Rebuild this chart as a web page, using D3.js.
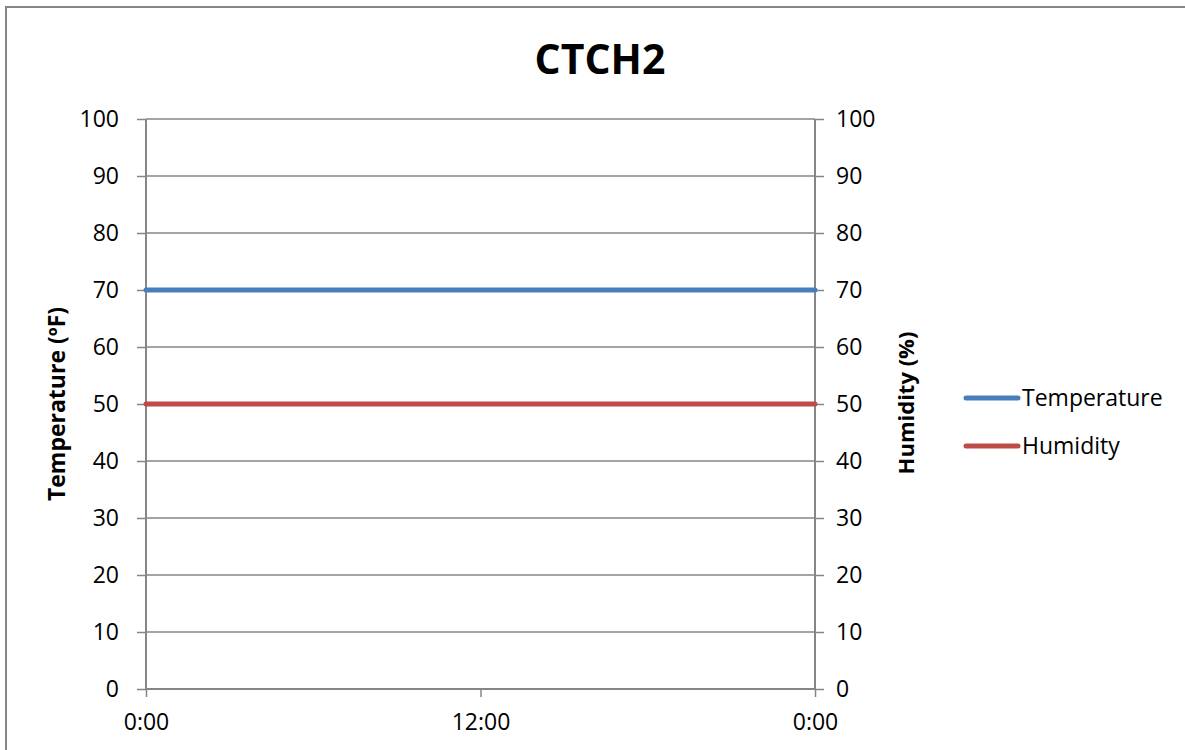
<!DOCTYPE html>
<html>
<head>
<meta charset="utf-8">
<script src="https://cdn.jsdelivr.net/npm/d3@7"></script>
<style>
  body { margin: 0; background: #fff; }
  svg text { font-family: "Open Sans", "DejaVu Sans", sans-serif; fill: #000; }
</style>
</head>
<body>
<svg id="chart" width="1185" height="750"></svg>
<script>
// chart data
var hours = [0, 10.5, 24];               // sample times (hours from midnight)
var temperature = [70, 70, 70];          // ºF, left axis
var humidity = [50, 50, 50];             // %, right axis
var yTicks = [0, 10, 20, 30, 40, 50, 60, 70, 80, 90, 100];
var xTicks = [0, 12, 24];
var xTickLabels = ["0:00", "12:00", "0:00"];
var seriesNames = ["Temperature", "Humidity"];
var seriesColors = ["#4a7ebb", "#be4b48"];

var svg = d3.select("#chart");

// outer chart frame (runs off the picture on right and bottom)
svg.append("rect")
    .attr("x", 6).attr("y", 7)
    .attr("width", 1200).attr("height", 800)
    .attr("fill", "none")
    .attr("stroke", "#868686")
    .attr("stroke-width", 2);

var x = d3.scaleLinear().domain([0, 24]).range([146, 815]);
var yL = d3.scaleLinear().domain([0, 100]).range([689, 119]);
var yR = d3.scaleLinear().domain([0, 100]).range([689, 119]);

// gridlines
svg.append("g")
    .selectAll("line")
    .data(yTicks.slice(1))
    .enter().append("line")
    .attr("x1", 146).attr("x2", 815)
    .attr("y1", function(d){ return yL(d); })
    .attr("y2", function(d){ return yL(d); })
    .attr("stroke", "#868686")
    .attr("stroke-width", 1.5);

// left axis
var leftAxis = d3.axisLeft(yL).tickValues(yTicks).tickSize(9).tickPadding(18);
var gL = svg.append("g").attr("transform", "translate(146,0)").call(leftAxis);

// right axis
var rightAxis = d3.axisRight(yR).tickValues(yTicks).tickSize(9).tickPadding(12);
var gR = svg.append("g").attr("transform", "translate(815,0)").call(rightAxis);

// bottom axis
var bottomAxis = d3.axisBottom(x).tickValues(xTicks).tickSize(8).tickPadding(17)
    .tickFormat(function(d, i){ return xTickLabels[i]; });
var gB = svg.append("g").attr("transform", "translate(0,689)").call(bottomAxis);

[gL, gR, gB].forEach(function(g){
    g.select(".domain").attr("stroke", "#868686").attr("stroke-width", 2);
    g.selectAll(".tick line").attr("stroke", "#868686").attr("stroke-width", 1.5);
    g.selectAll(".tick text").style("font-size", "23px").attr("fill", "#000");
    g.attr("font-family", null);
});
gL.select(".domain").attr("d", "M0,689V119");
gR.select(".domain").attr("d", "M0,689V119");
gB.select(".domain").attr("d", "M146,0H815");

// series lines
var lineL = d3.line().x(function(d){ return x(d[0]); }).y(function(d){ return yL(d[1]); });
var lineR = d3.line().x(function(d){ return x(d[0]); }).y(function(d){ return yR(d[1]); });

svg.append("path")
    .datum(d3.zip(hours, humidity))
    .attr("d", lineR)
    .attr("fill", "none")
    .attr("stroke", seriesColors[1])
    .attr("stroke-width", 5)
    .attr("stroke-linecap", "round");

svg.append("path")
    .datum(d3.zip(hours, temperature))
    .attr("d", lineL)
    .attr("fill", "none")
    .attr("stroke", seriesColors[0])
    .attr("stroke-width", 5)
    .attr("stroke-linecap", "round");

// title
svg.append("text")
    .attr("x", 600).attr("y", 74)
    .attr("text-anchor", "middle")
    .style("font-size", "41px")
    .style("font-weight", "bold")
    .text("CTCH2");

// axis titles
svg.append("text")
    .attr("transform", "translate(65,404) rotate(-90)")
    .attr("text-anchor", "middle")
    .style("font-size", "23px")
    .style("font-weight", "bold")
    .text("Temperature (ºF)");

svg.append("text")
    .attr("transform", "translate(914,403) rotate(-90)")
    .attr("text-anchor", "middle")
    .style("font-size", "22px")
    .style("font-weight", "bold")
    .text("Humidity (%)");

// legend
var legend = svg.append("g").selectAll("g")
    .data(seriesNames)
    .enter().append("g")
    .attr("transform", function(d, i){ return "translate(966," + (398 + i * 48) + ")"; });

legend.append("line")
    .attr("x1", 0).attr("x2", 52)
    .attr("y1", 0).attr("y2", 0)
    .attr("stroke", function(d, i){ return seriesColors[i]; })
    .attr("stroke-width", 5)
    .attr("stroke-linecap", "round");

legend.append("text")
    .attr("x", 56).attr("y", 8)
    .style("font-size", "23px")
    .text(function(d){ return d; });
</script>
</body>
</html>
